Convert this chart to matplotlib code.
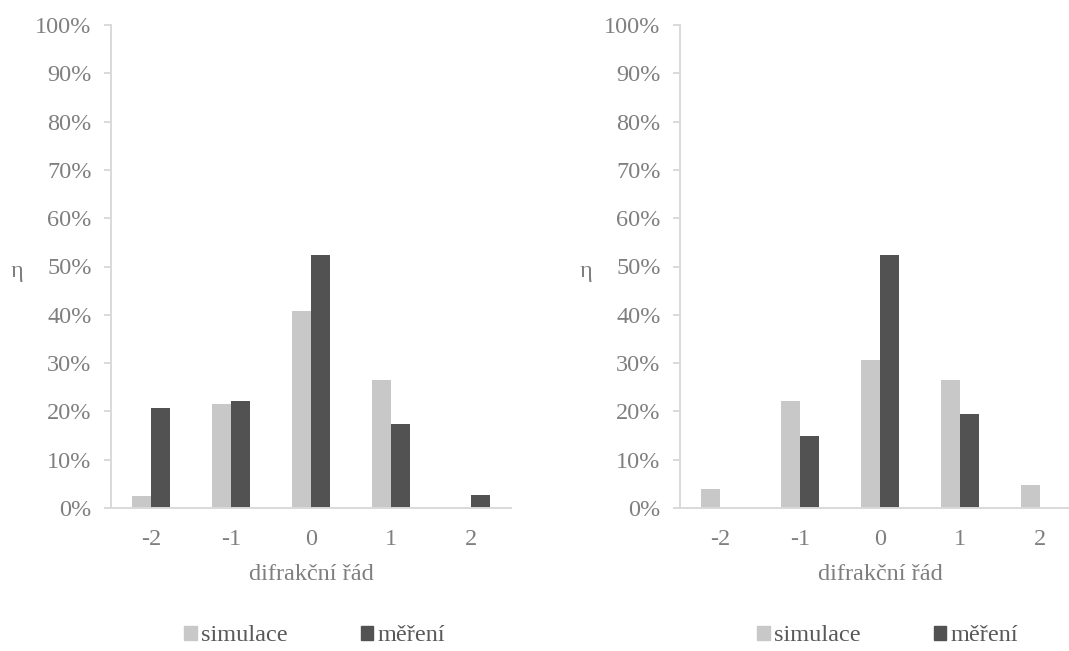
import matplotlib.pyplot as plt
import numpy as np
from matplotlib.patches import Patch
from matplotlib.ticker import PercentFormatter

plt.rcParams['font.family'] = ['Liberation Serif', 'DejaVu Serif']

orders = ['-2', '-1', '0', '1', '2']
sim_a = [2.5, 21.5, 40.8, 26.6, 0.0]
mer_a = [20.7, 22.1, 52.4, 17.3, 2.6]
sim_b = [3.9, 22.1, 30.7, 26.6, 4.8]
mer_b = [0.0, 14.9, 52.3, 19.4, 0.0]

c_sim = '#c8c8c8'
c_mer = '#525252'
c_axis = '#d9d9d9'
c_text = '#7f7f7f'
fs = 17.5

fig = plt.figure(figsize=(10.69, 6.51), dpi=100)
ax1 = fig.add_axes([111 / 1069, 143 / 651, 400 / 1069, 483 / 651])
ax2 = fig.add_axes([680 / 1069, 143 / 651, 400 / 1069, 483 / 651])

x = np.arange(len(orders))
w = 0.2375

for ax, sim, mer, lx in [(ax1, sim_a, mer_a, 0.51), (ax2, sim_b, mer_b, 0.52)]:
    ax.bar(x - w / 2, sim, w, color=c_sim)
    ax.bar(x + w / 2, mer, w, color=c_mer)
    ax.set_xlim(-0.5, 4.5)
    ax.set_ylim(0, 100)
    ax.set_yticks(np.arange(0, 101, 10))
    ax.yaxis.set_major_formatter(PercentFormatter(decimals=0))
    ax.set_xticks(x)
    ax.set_xticklabels(orders)
    for s in ['top', 'right']:
        ax.spines[s].set_visible(False)
    for s in ['left', 'bottom']:
        ax.spines[s].set_color(c_axis)
        ax.spines[s].set_linewidth(1.4)
    ax.tick_params(axis='y', length=5, width=1.4, color=c_axis, pad=9,
                   labelsize=fs, labelcolor=c_text)
    ax.tick_params(axis='x', length=0, pad=15, labelsize=fs, labelcolor=c_text)
    ax.set_xlabel('difrakční řád', fontsize=fs, color=c_text, labelpad=10)
    ax.set_ylabel('η', fontsize=fs, color=c_text, rotation=0, va='center')
    ax.yaxis.set_label_coords(-0.235, 0.49)

    handles = [Patch(color=c_sim, label='simulace'), Patch(color=c_mer, label='měření')]
    ax.legend(handles=handles, loc='center', bbox_to_anchor=(lx, -0.265), ncol=2,
              frameon=False, fontsize=fs, labelcolor='#595959',
              handlelength=0.5, handleheight=0.5, handletextpad=0.2,
              columnspacing=3.0, borderpad=0.2)

fig.savefig('out.png', dpi=100)
